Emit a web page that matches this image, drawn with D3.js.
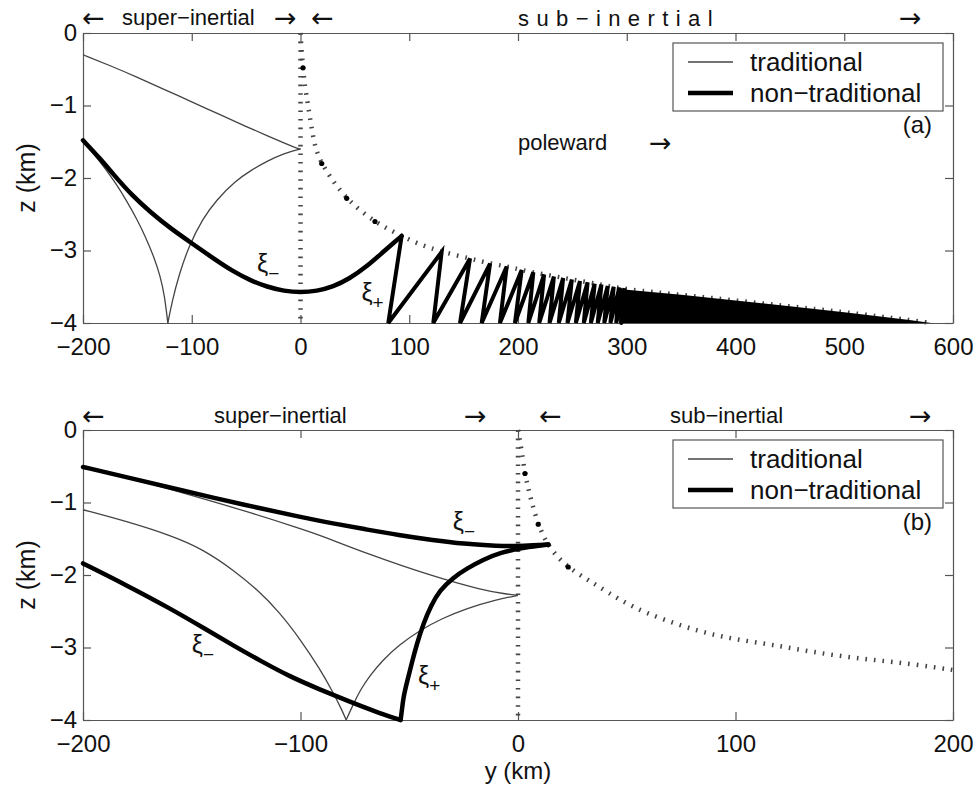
<!DOCTYPE html>
<html>
<head>
<meta charset="utf-8">
<script src="https://cdn.jsdelivr.net/npm/d3@7"></script>
<style>
body { margin: 0; background: #fff; }
svg { font-family: "Liberation Sans", Arial, Helvetica, sans-serif; }
.axis path, .axis line { stroke: #555; stroke-width: 1.2; }
.axis text { font-size: 24px; fill: #111; font-family: "Liberation Sans", Arial, sans-serif; }
.thin { fill: none; stroke: #444; stroke-width: 1.3; }
.bold { fill: none; stroke: #000; stroke-width: 4.5; stroke-linejoin: round; stroke-linecap: round; }
.dots { fill: none; stroke: #444; stroke-width: 4.5; stroke-dasharray: 1.6,7; }
.note { font-size: 22px; fill: #111; }
.arrow { font-family: "DejaVu Sans", sans-serif; font-size: 27px; fill: #111; }
</style>
</head>
<body>
<div id="chart"></div>
<script>
// values: [y (km), z (km)]
var zTicks = [0, -1, -2, -3, -4];
var yTicksA = [-200, -100, 0, 100, 200, 300, 400, 500, 600];
var yTicksB = [-200, -100, 0, 100, 200];
var legendNames = ["traditional", "non\u2212traditional"];

// panel (a)
var tradA_upper = [[-200,-0.30],[-175,-0.45],[-150,-0.61],[-125,-0.78],[-100,-0.95],[-75,-1.12],[-50,-1.29],[-30,-1.42],[-15,-1.52],[-5,-1.58],[0,-1.60]];
var tradA_right = [[0,-1.60],[-15,-1.66],[-31,-1.77],[-45,-1.89],[-60,-2.04],[-77,-2.30],[-90,-2.56],[-103,-2.95],[-112,-3.35],[-118,-3.70],[-122,-4.0]];
var tradA_left = [[-200,-1.50],[-190,-1.67],[-180,-1.86],[-170,-2.07],[-160,-2.31],[-150,-2.58],[-142,-2.83],[-135,-3.08],[-129,-3.35],[-125,-3.62],[-122,-4.0]];
var boldA = [[-200,-1.48],[-185,-1.72],[-172,-1.95],[-155,-2.24],[-138,-2.47],[-120,-2.69],[-100,-2.90],[-80,-3.11],[-62,-3.29],[-45,-3.42],[-31,-3.50],[-15,-3.56],[0,-3.58],[15,-3.56],[30,-3.50],[45,-3.39],[61,-3.22],[76,-3.02],[86,-2.89],[93,-2.80]];
var sawApex = [[93,-2.80],[129.8,-3.02],[155.9,-3.11],[174.3,-3.18],[189.6,-3.22],[203.4,-3.27],[214.1,-3.30],[224,-3.33],[233,-3.36],[241.5,-3.38],[249.5,-3.40],[257,-3.42],[264,-3.44],[270.5,-3.46],[276.7,-3.47],[282.5,-3.49],[288,-3.50],[293.2,-3.51],[298,-3.52]];
var sawFoot = [80.7,122.1,146.7,166.6,183.4,197.2,209.5,219.5,229,237.5,245.5,253.2,260.5,267,273.3,279.3,285,290.3,295];
var wedgeTop = [[293,-3.51],[300,-3.54],[350,-3.61],[400,-3.69],[450,-3.77],[500,-3.85],[533,-3.91],[560,-3.96],[580,-4.0]];
var turnA = [[0,0],[1,-0.22],[2.3,-0.48],[4,-0.73],[6.4,-0.95],[8.5,-1.15],[11,-1.38],[14,-1.61],[19.5,-1.80],[30,-2.05],[42.5,-2.28],[55,-2.45],[68.5,-2.60],[80,-2.70],[93,-2.80],[110,-2.92],[130,-3.02],[156,-3.11],[174,-3.18],[190,-3.22],[203,-3.27],[224,-3.33],[250,-3.40],[276,-3.47],[300,-3.54],[350,-3.61],[400,-3.69],[450,-3.77],[500,-3.85],[533,-3.91],[560,-3.96],[580,-4.0]];
var turnDotsA = [[2.3,-0.48],[19.5,-1.80],[42.5,-2.28],[68.5,-2.60]];

// panel (b)
var tradB_upper = [[-200,-0.51],[-180,-0.65],[-155,-0.86],[-125,-1.12],[-100,-1.36],[-91,-1.45],[-70,-1.70],[-39,-2.02],[-16,-2.21],[-6,-2.26],[0,-2.28]];
var tradB_right = [[0,-2.28],[-10,-2.34],[-23.6,-2.46],[-35,-2.60],[-45,-2.76],[-55,-2.97],[-62,-3.17],[-68,-3.38],[-72.6,-3.59],[-76,-3.80],[-79,-4.0]];
var tradB_left = [[-200,-1.10],[-180,-1.26],[-160,-1.45],[-145,-1.64],[-130,-1.95],[-120,-2.20],[-110,-2.50],[-100,-2.89],[-91,-3.30],[-85,-3.62],[-81,-3.86],[-79,-4.0]];
var boldB_lower = [[-200,-1.84],[-180,-2.14],[-160,-2.46],[-144,-2.74],[-130,-2.99],[-118,-3.19],[-105,-3.40],[-91,-3.58],[-78,-3.74],[-66,-3.88],[-54,-4.0]];
var boldB_plus = [[-54,-4.0],[-53.5,-3.90],[-52.7,-3.68],[-50.8,-3.45],[-48.9,-3.22],[-46.5,-2.95],[-43.5,-2.67],[-40,-2.42],[-35.9,-2.21],[-30,-2.04],[-23.6,-1.91],[-16,-1.79],[-8.3,-1.69],[3,-1.62],[14,-1.58]];
var boldB_upper = [[14,-1.58],[3,-1.60],[-10,-1.60],[-25,-1.57],[-39,-1.52],[-55,-1.45],[-70,-1.37],[-85,-1.29],[-100,-1.20],[-125,-1.04],[-155,-0.83],[-180,-0.65],[-200,-0.51]];
var turnB = [[0,0],[1.5,-0.25],[3.2,-0.60],[5,-0.85],[7,-1.07],[9.3,-1.30],[12,-1.48],[14,-1.59],[18,-1.75],[23.1,-1.89],[30,-2.03],[36.2,-2.14],[47,-2.35],[59.2,-2.53],[75,-2.70],[89.8,-2.83],[105,-2.91],[120.5,-2.98],[135,-3.06],[151,-3.13],[166,-3.18],[182,-3.23],[200,-3.31]];
var turnDotsB = [[3.2,-0.60],[9.3,-1.30],[23.1,-1.89]];

var inertial = [[0,0],[0,-4]];

var width = 870, height = 290, left = 83;

var svg = d3.select("#chart").append("svg")
    .attr("width", 979)
    .attr("height", 788);

function panel(top, domain, ticks){
  var g = svg.append("g").attr("transform", "translate(" + left + "," + top + ")");
  var x = d3.scaleLinear().domain(domain).range([0, width]);
  var z = d3.scaleLinear().domain([0, -4]).range([0, height]);

  g.append("g").attr("class", "axis")
    .attr("transform", "translate(0," + height + ")")
    .call(d3.axisBottom(x).tickValues(ticks).tickSize(-8).tickSizeOuter(0).tickPadding(15).tickFormat(d3.format("d")));
  g.append("g").attr("class", "axis")
    .call(d3.axisTop(x).tickValues(ticks).tickSize(-8).tickSizeOuter(0).tickFormat(""));
  g.append("g").attr("class", "axis")
    .call(d3.axisLeft(z).tickValues(zTicks).tickSize(-8).tickSizeOuter(0).tickPadding(6).tickFormat(d3.format("d")))
    .selectAll("text").attr("dy", "0.3em");
  g.append("g").attr("class", "axis")
    .attr("transform", "translate(" + width + ",0)")
    .call(d3.axisRight(z).tickValues(zTicks).tickSize(-8).tickSizeOuter(0).tickFormat(""));

  var smooth = d3.line().x(function(d){ return x(d[0]); }).y(function(d){ return z(d[1]); })
    .curve(d3.curveBasis);
  var straight = d3.line().x(function(d){ return x(d[0]); }).y(function(d){ return z(d[1]); });

  return {g: g, x: x, z: z, smooth: smooth, straight: straight};
}

function dotted(p, pts, marks){
  p.g.append("path").attr("class", "dots").attr("d", p.straight(inertial));
  p.g.append("path").attr("class", "dots").attr("d", p.smooth(pts));
  p.g.selectAll(null).data(marks).enter().append("circle")
    .attr("cx", function(d){ return p.x(d[0]); })
    .attr("cy", function(d){ return p.z(d[1]); })
    .attr("r", 2.6).attr("fill", "#000");
}

function legend(top, label){
  var lg = svg.append("g").attr("transform", "translate(673," + top + ")");
  lg.append("rect").attr("width", 270).attr("height", 68)
    .attr("fill", "#fff").attr("stroke", "#555").attr("stroke-width", 1.2);
  lg.append("line").attr("x1", 15).attr("x2", 60).attr("y1", 19).attr("y2", 19)
    .attr("stroke", "#444").attr("stroke-width", 1.3);
  lg.append("line").attr("x1", 15).attr("x2", 60).attr("y1", 50).attr("y2", 50)
    .attr("stroke", "#000").attr("stroke-width", 4.5);
  lg.selectAll("text.name").data(legendNames).enter().append("text")
    .attr("class", "name")
    .attr("x", 77).attr("y", function(d, i){ return 28 + i * 31; })
    .attr("font-size", 26).attr("fill", "#111")
    .text(function(d){ return d; });
  svg.append("text").attr("x", 932).attr("y", top + 90)
    .attr("text-anchor", "end").attr("font-size", 24).attr("fill", "#111").text(label);
}

function xi(p, yv, zv, sub){
  var t = p.g.append("text").attr("x", p.x(yv)).attr("y", p.z(zv))
    .attr("font-size", 25).attr("fill", "#111");
  t.append("tspan").text("\u03be");
  t.append("tspan").attr("font-size", 19).attr("dy", 8).text(sub);
}

function note(x, y, s, extra){
  var t = svg.append("text").attr("class", "note").attr("x", x).attr("y", y).text(s);
  if (extra) t.attr("letter-spacing", extra);
  return t;
}

function arrow(x, y, right){
  svg.append("text").attr("class", "arrow").attr("x", x).attr("y", y)
    .text(right ? "\u2192" : "\u2190");
}

// ---------- panel (a) ----------
var a = panel(33, [-200, 600], yTicksA);
[tradA_upper, tradA_right, tradA_left].forEach(function(c){
  a.g.append("path").attr("class", "thin").attr("d", a.smooth(c));
});
dotted(a, turnA, turnDotsA);
a.g.append("path").attr("class", "bold").attr("d", a.smooth(boldA));

var saw = [];
sawApex.forEach(function(d, i){ saw.push(d); saw.push([sawFoot[i], -4]); });
a.g.append("path").attr("class", "bold")
  .style("stroke-linejoin", "miter").style("stroke-width", 4)
  .attr("d", a.straight(saw));
a.g.append("path").attr("fill", "#000")
  .attr("d", d3.area().x(function(d){ return a.x(d[0]); })
    .y0(a.z(-4)).y1(function(d){ return a.z(d[1]); })(wedgeTop));

xi(a, -40, -3.3, "\u2212");
xi(a, 56, -3.7, "+");
legend(43, "(a)");

arrow(82, 27, false);
note(122, 25, "super\u2212inertial");
arrow(274, 27, true);
arrow(311, 27, false);
note(518, 26, "sub\u2212inertial", 7.4);
arrow(899, 27, true);
note(518, 150, "poleward").attr("font-size", 23);
arrow(649, 152, true);

// ---------- panel (b) ----------
var b = panel(430, [-200, 200], yTicksB);
[tradB_upper, tradB_right, tradB_left].forEach(function(c){
  b.g.append("path").attr("class", "thin").attr("d", b.smooth(c));
});
dotted(b, turnB, turnDotsB);
[boldB_lower, boldB_plus, boldB_upper].forEach(function(c){
  b.g.append("path").attr("class", "bold").attr("d", b.smooth(c));
});
xi(b, -30, -1.38, "\u2212");
xi(b, -150, -3.07, "\u2212");
xi(b, -46, -3.5, "+");
legend(440, "(b)");

arrow(82, 425, false);
note(214, 423, "super\u2212inertial");
arrow(464, 425, true);
arrow(539, 425, false);
note(670, 423, "sub\u2212inertial");
arrow(909, 425, true);

// axis titles
svg.append("text").attr("x", 518).attr("y", 779).attr("text-anchor", "middle")
  .attr("font-size", 24).attr("fill", "#111").text("y (km)");
[178, 575].forEach(function(cy){
  svg.append("text").attr("transform", "translate(35," + cy + ") rotate(-90)")
    .attr("text-anchor", "middle").attr("font-size", 25).attr("fill", "#111").text("z (km)");
});
</script>
</body>
</html>
